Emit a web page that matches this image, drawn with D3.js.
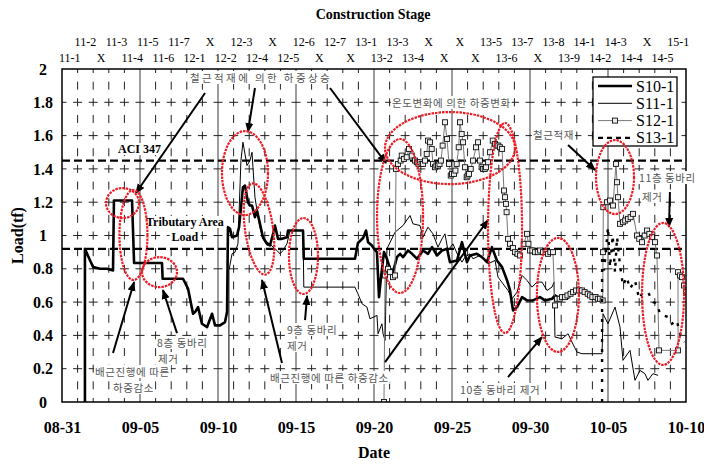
<!DOCTYPE html>
<html>
<head>
<meta charset="utf-8">
<script src="https://cdn.jsdelivr.net/npm/d3@7"></script>
<style>
	body { margin: 0; background: #fff; }
	svg { display: block; }
</style>
</head>
<body>
<svg id="chart" width="704" height="464"></svg>
<script>
// days counted from 08-31, load in tf
const xTickDays = [0, 5, 10, 15, 20, 25, 30, 35, 40]
const xTickLabels = ['08-31', '09-05', '09-10', '09-15', '09-20', '09-25', '09-30', '10-05', '10-10']
const yTicks = [0, 0.2, 0.4, 0.6, 0.8, 1, 1.2, 1.4, 1.6, 1.8, 2]
const yTickLabels = ['0', '0.2', '0.4', '0.6', '0.8', '1', '1.2', '1.4', '1.6', '1.8', '2']

// one label per day, alternating lower / upper row
const stageLabels = ['11-1', '11-2', 'X', '11-3', '11-4', '11-5', '11-6', '11-7', '12-1', 'X',
	'12-2', '12-3', '12-4', 'X', '12-5', '12-6', 'X', '12-7', 'X', '13-1',
	'13-2', '13-3', '13-4', 'X', 'X', 'X', 'X', '13-5', '13-6', '13-7',
	'X', '13-8', '13-9', '14-1', '14-2', '14-3', '14-4', 'X', '14-5', '15-1']

const seriesNames = ['S10-1', 'S11-1', 'S12-1', 'S13-1']

const s10 = [[1.47, 0], [1.47, 0.92], [1.8, 0.85], [2.0, 0.81], [2.44, 0.8], [2.88, 0.8], [3.27, 0.79], [3.33, 1.21],
	[4.49, 1.21], [4.62, 0.835], [6.41, 0.835], [6.45, 0.74], [7.76, 0.74], [8.08, 0.68], [8.4, 0.53], [8.53, 0.54],
	[8.72, 0.57], [8.97, 0.47], [9.3, 0.45], [9.62, 0.53], [9.81, 0.46], [10.13, 0.46], [10.45, 0.48], [10.58, 0.54],
	[10.64, 1.05], [10.77, 1.04], [10.9, 0.99], [11.22, 1.0], [11.35, 1.05], [11.6, 1.29], [11.73, 1.3], [11.92, 1.2],
	[12.05, 1.18], [12.18, 1.18], [12.37, 1.11], [12.5, 1.15], [12.69, 1.07], [12.88, 0.99], [13.08, 0.96], [13.33, 0.94],
	[13.53, 1.01], [13.65, 1.06], [13.85, 0.98], [14.1, 0.98], [14.42, 0.99], [14.49, 1.03], [15.45, 1.03], [15.5, 0.86],
	[18.78, 0.86], [18.97, 0.955], [19.3, 0.985], [19.49, 1.03], [19.62, 0.96], [19.87, 0.94], [20.0, 0.92], [20.19, 0.9],
	[20.32, 0.63], [20.45, 0.75], [20.64, 0.9], [20.83, 0.86], [21.03, 0.8], [21.22, 0.78], [21.47, 0.87], [21.67, 0.89],
	[21.86, 0.87], [22.18, 0.91], [22.44, 0.89], [22.76, 0.86], [23.14, 0.91], [23.46, 0.89], [23.72, 0.93], [24.04, 0.88],
	[24.36, 0.91], [24.68, 0.92], [24.87, 0.84], [25.32, 0.85], [25.64, 0.96], [25.96, 0.84], [26.15, 0.88], [26.6, 0.89],
	[26.92, 0.87], [27.24, 0.84], [27.56, 0.93], [27.88, 0.85], [28.21, 0.81], [28.53, 0.73], [28.72, 0.67], [28.91, 0.55],
	[29.17, 0.57], [29.49, 0.63], [29.81, 0.61], [30.19, 0.61], [30.64, 0.63], [30.96, 0.61], [31.41, 0.62], [31.6, 0.64],
	[31.92, 0.62], [32.37, 0.62], [32.69, 0.66], [33.21, 0.67], [33.65, 0.66], [34.04, 0.63], [34.62, 0.62]]

const s11 = [[10.7, 0], [10.7, 0.79], [10.9, 0.89], [11.09, 0.9], [11.28, 0.95], [11.47, 1.45], [11.6, 1.56], [11.73, 1.49],
	[11.86, 1.42], [12.05, 1.45], [12.18, 1.5], [12.24, 1.41], [12.37, 1.23], [12.5, 1.15], [12.69, 1.05], [12.88, 0.98],
	[13.14, 0.94], [13.33, 0.95], [13.53, 0.93], [13.78, 0.91], [13.97, 0.89], [14.17, 0.91], [14.42, 0.95], [14.62, 1.03],
	[15.45, 1.03], [15.5, 0.69], [18.78, 0.69], [18.97, 0.65], [19.23, 0.59], [19.55, 0.57], [19.74, 0.5], [20.19, 0.52],
	[20.26, 0.41], [20.51, 0.47], [20.58, 0.41], [20.71, 0.37], [20.83, 0.92], [21.35, 1.02], [21.86, 1.06], [22.31, 1.12],
	[22.5, 1.07], [22.95, 1.06], [23.14, 0.99], [23.46, 1.05], [23.78, 1.01], [24.1, 0.93], [24.36, 0.98], [24.55, 1.01],
	[24.74, 0.91], [25.06, 0.95], [25.38, 0.88], [25.64, 0.84], [25.83, 0.87], [26.15, 0.89], [26.35, 0.86], [26.79, 0.88],
	[27.12, 0.85], [27.31, 0.83], [27.76, 0.85], [27.95, 0.75], [28.27, 0.71], [28.59, 0.67], [28.85, 0.62], [29.17, 0.66],
	[29.49, 0.76], [29.81, 0.73], [30.13, 0.69], [30.45, 0.72], [30.77, 0.72], [31.09, 0.67], [31.41, 0.69], [31.54, 0.72],
	[31.6, 0.39], [32.05, 0.38], [32.44, 0.41], [32.69, 0.36], [33.01, 0.3], [33.33, 0.29], [33.85, 0.29], [34.62, 0.29],
	[34.68, 0.53], [35.0, 0.47], [35.45, 0.57], [35.77, 0.45], [35.96, 0.25], [36.41, 0.31], [36.73, 0.13], [37.05, 0.19],
	[37.37, 0.17], [37.56, 0.13], [37.88, 0.17], [38.21, 0.16]]

const s12 = [[20.64, 0], [20.71, 0.76], [20.9, 0.8], [21.03, 0.78], [21.22, 0.75], [21.35, 0.76], [21.41, 1.4], [21.54, 1.43],
	[21.71, 1.45], [21.78, 1.48], [21.92, 1.46], [22.1, 1.47], [22.24, 1.52], [22.42, 1.48], [22.63, 1.45], [22.75, 1.44],
	[22.85, 1.43], [22.95, 1.44], [23.05, 1.43], [23.14, 1.43], [23.27, 1.45], [23.38, 1.49], [23.46, 1.57], [23.59, 1.56],
	[23.7, 1.52], [23.78, 1.43], [23.91, 1.41], [24.0, 1.42], [24.1, 1.42], [24.2, 1.43], [24.29, 1.45], [24.4, 1.54],
	[24.55, 1.68], [24.68, 1.58], [24.81, 1.43], [24.92, 1.36], [25.0, 1.37], [25.13, 1.37], [25.22, 1.39], [25.3, 1.43],
	[25.43, 1.53], [25.51, 1.68], [25.62, 1.61], [25.71, 1.56], [25.83, 1.41], [25.94, 1.35], [26.0, 1.36], [26.09, 1.37],
	[26.2, 1.4], [26.35, 1.45], [26.54, 1.53], [26.67, 1.56], [26.79, 1.45], [26.9, 1.41], [26.99, 1.4], [27.1, 1.4],
	[27.18, 1.41], [27.31, 1.44], [27.44, 1.5], [27.61, 1.57], [27.76, 1.55], [27.87, 1.54], [27.97, 1.54], [28.08, 1.53],
	[28.21, 1.52], [28.33, 1.27], [28.4, 1.23], [28.46, 1.19], [28.5, 1.14], [28.59, 0.98], [28.72, 0.95], [28.91, 0.925],
	[29.04, 0.9], [29.2, 0.89], [29.36, 0.88], [29.6, 0.95], [29.81, 1.01], [29.9, 0.95], [30.0, 0.91], [30.15, 0.91],
	[30.32, 0.9], [30.5, 0.9], [30.65, 0.91], [30.83, 0.9], [31.0, 0.9], [31.15, 0.89], [31.3, 0.9], [31.47, 0.9],
	[31.6, 0.58], [31.73, 0.62], [31.9, 0.62], [32.05, 0.63], [32.24, 0.63], [32.4, 0.64], [32.6, 0.65], [32.76, 0.66],
	[32.95, 0.67], [33.15, 0.67], [33.33, 0.67], [33.5, 0.66], [33.7, 0.65], [33.85, 0.64], [34.0, 0.63], [34.2, 0.63],
	[34.35, 0.62], [34.49, 0.62], [34.66, 0.61], [34.68, 0.9], [34.7, 1.17], [34.94, 1.2], [35.13, 1.21], [35.32, 1.18],
	[35.51, 1.43], [35.58, 1.32], [35.64, 1.23], [35.77, 1.07], [35.96, 1.08], [36.1, 1.09], [36.28, 1.1], [36.45, 1.11],
	[36.6, 1.13], [36.86, 1.0], [37.0, 0.98], [37.18, 0.96], [37.35, 1.0], [37.5, 1.03], [37.65, 1.01], [37.82, 0.99],
	[38.01, 0.96], [38.14, 0.88], [38.27, 0.31], [39.49, 0.31], [39.49, 0.78], [39.62, 0.76], [39.74, 0.75], [39.87, 0.7],
	[40.0, 0.66]]

const s13 = [[34.62, 0], [34.62, 0.88], [34.75, 0.79], [35.0, 1.05], [35.13, 0.81], [35.3, 1.0], [35.45, 0.78], [35.58, 0.99],
	[35.77, 0.82], [35.96, 0.7], [36.2, 0.75], [36.41, 0.68], [36.73, 0.73], [37.0, 0.62], [37.18, 0.65], [37.56, 0.66],
	[37.9, 0.6], [38.14, 0.59], [38.33, 0.53], [38.85, 0.51], [39.1, 0.47], [39.42, 0.49], [39.55, 0.43], [39.68, 0.39],
	[39.9, 0.36]]

const refLevels = [1.45, 0.92]

// annotations: [day, load] anchors
const ellipses = [[3.88, 1.195, 16.5, 15, 0], [4.58, 1.003, 14, 45, 0], [6.25, 0.78, 17.5, 15, 0],
	[11.73, 1.375, 23, 42, 0], [12.63, 1.039, 14, 46, -8], [15.48, 0.877, 14.5, 38, 0],
	[24.87, 1.525, 65, 36, 0], [21.67, 1.117, 23, 77, 0], [28.4, 1.045, 17, 105, 0],
	[31.79, 0.643, 21, 57, 0], [35.45, 1.351, 19, 37, 0], [38.53, 0.649, 21, 71, 0]]

const arrows = [[9.17, 1.856, 4.74, 1.255], [12.37, 1.886, 11.92, 1.622], [17.18, 1.886, 20.77, 1.435],
	[3.27, 0.294, 4.62, 0.721], [7.37, 0.414, 6.47, 0.673], [14.1, 0.234, 12.82, 0.733],
	[20.71, 0.24, 27.31, 1.093], [15.58, 0.492, 15.71, 0.637], [28.59, 0.15, 30.77, 0.39],
	[32.44, 1.544, 34.17, 1.393], [38.97, 1.261, 38.91, 1.051]]

// [text, day, load, letter spacing]
const notes = [['철근적재에 의한 하중상승', 8.2, 1.922, 2.4], ['온도변화에 의한 하중변화', 21.15, 1.772, 0.6],
	['철근적재', 30.19, 1.58, 0.6], ['11층 동바리', 36.99, 1.321, 0.6], ['제거', 37.18, 1.207, 0.6],
	['8층  동바리', 6.09, 0.33, 0.6], ['제거', 6.15, 0.234, 0.6],
	['배근진행에 따른', 2.12, 0.156, 0.6], ['하중감소', 3.27, 0.06, 0.6],
	['9층  동바리', 14.42, 0.408, 0.6], ['제거', 14.42, 0.312, 0.6],
	['배근진행에 따른 하중감소', 13.33, 0.12, 0.6], ['10층 동바리 제거', 25.51, 0.048, 0.6]]

const serif = '"Liberation Serif", "Times New Roman", serif'
const korean = '"Noto Sans CJK KR", sans-serif'

const svg = d3.select('#chart')
const x = d3.scaleLinear().domain([0, 40]).range([62, 686])
const y = d3.scaleLinear().domain([0, 2]).range([402, 69])

svg.append('defs')
	.append('marker')
	.attr('id', 'head')
	.attr('viewBox', '0 0 10 10')
	.attr('refX', 9)
	.attr('refY', 5)
	.attr('markerWidth', 10)
	.attr('markerHeight', 10)
	.attr('markerUnits', 'userSpaceOnUse')
	.attr('orient', 'auto')
	.append('path')
	.attr('d', 'M0,1 L10,5 L0,9 Z')
	.attr('fill', '#000')

svg.select('defs')
	.append('clipPath')
	.attr('id', 'plot')
	.append('rect')
	.attr('x', x(0))
	.attr('y', y(2))
	.attr('width', x(40) - x(0))
	.attr('height', y(0) - y(2))

// white box behind a text
function backing(layer, t, pad) {
	const b = t.node().getBBox()
	layer.insert('rect', () => t.node())
		.attr('x', b.x - pad)
		.attr('y', b.y + 1)
		.attr('width', b.width + pad * 2)
		.attr('height', b.height - 2)
		.attr('fill', '#fff')
}

// grid
const grid = svg.append('g')
grid.selectAll('.vdash')
	.data(d3.range(1, 40).filter(d => d % 5))
	.join('line')
	.attr('x1', d => x(d))
	.attr('x2', d => x(d))
	.attr('y1', y(2))
	.attr('y2', y(0))
	.attr('stroke', '#222')
	.attr('stroke-dasharray', '8,8.65')
	.attr('stroke-dashoffset', 4)

grid.selectAll('.vsolid')
	.data([5, 10, 15, 20, 25, 30, 35])
	.join('line')
	.attr('x1', d => x(d))
	.attr('x2', d => x(d))
	.attr('y1', y(2))
	.attr('y2', y(0))
	.attr('stroke', '#666')
	.attr('stroke-width', 1.3)

grid.selectAll('.hdash')
	.data(yTicks.slice(1, -1))
	.join('line')
	.attr('x1', x(0))
	.attr('x2', x(40))
	.attr('y1', d => y(d))
	.attr('y2', d => y(d))
	.attr('stroke', '#222')
	.attr('stroke-dasharray', '9,6.6')
	.attr('stroke-dashoffset', 4.5)

// reference loads
const refText = svg.append('g')
	.attr('font-family', serif)
	.attr('font-weight', 'bold')
	.attr('font-size', 12)
const aci = refText.append('text').attr('x', x(3.59)).attr('y', y(1.495)).text('ACI 347')
backing(refText, aci, 2)
const trib = refText.append('text').attr('x', x(7.88)).attr('y', y(1.057)).attr('text-anchor', 'middle').text('Tributary Area')
backing(refText, trib, 2)
const tribLoad = refText.append('text').attr('x', x(7.88)).attr('y', y(0.967)).attr('text-anchor', 'middle').text('Load')
backing(refText, tribLoad, 2)

svg.append('g')
	.selectAll('line')
	.data(refLevels)
	.join('line')
	.attr('x1', x(0))
	.attr('x2', x(40))
	.attr('y1', d => y(d))
	.attr('y2', d => y(d))
	.attr('stroke', '#000')
	.attr('stroke-width', 2.2)
	.attr('stroke-dasharray', '8,4')

// series
const line = d3.line().x(d => x(d[0])).y(d => y(d[1]))
const plot = svg.append('g').attr('clip-path', 'url(#plot)')

plot.append('path').datum(s11)
	.attr('d', line).attr('fill', 'none').attr('stroke', '#000').attr('stroke-width', 1)
plot.append('path').datum(s10)
	.attr('d', line).attr('fill', 'none').attr('stroke', '#000').attr('stroke-width', 2.6)
	.attr('stroke-linejoin', 'round')
plot.append('path').datum(s12)
	.attr('d', line).attr('fill', 'none').attr('stroke', '#777').attr('stroke-width', 1)
plot.selectAll('.sq')
	.data(s12)
	.join('rect')
	.attr('x', d => x(d[0]) - 2.5)
	.attr('y', d => y(d[1]) - 2.5)
	.attr('width', 5)
	.attr('height', 5)
	.attr('fill', '#eee')
	.attr('stroke', '#111')
	.attr('stroke-width', 0.9)
plot.append('path').datum(s13)
	.attr('d', line).attr('fill', 'none').attr('stroke', '#000').attr('stroke-width', 2.4)
	.attr('stroke-dasharray', '3,7')

// frame
svg.append('rect')
	.attr('x', x(0))
	.attr('y', y(2))
	.attr('width', x(40) - x(0))
	.attr('height', y(0) - y(2))
	.attr('fill', 'none')
	.attr('stroke', '#000')
	.attr('stroke-width', 1.5)

// axes
const yAxis = svg.append('g')
	.attr('transform', `translate(${x(0)},0)`)
	.call(d3.axisLeft(y).tickValues(yTicks).tickFormat((d, i) => yTickLabels[i]).tickSize(0))
yAxis.select('.domain').remove()
yAxis.selectAll('text')
	.attr('x', -19)
	.attr('text-anchor', 'middle')
	.attr('font-family', serif)
	.attr('font-weight', 'bold')
	.attr('font-size', 16)
	.attr('fill', '#000')

const xAxis = svg.append('g')
	.attr('transform', `translate(0,${y(0)})`)
	.call(d3.axisBottom(x).tickValues(xTickDays).tickFormat((d, i) => xTickLabels[i]).tickSize(0))
xAxis.select('.domain').remove()
xAxis.selectAll('text')
	.attr('y', 20)
	.attr('font-family', serif)
	.attr('font-weight', 'bold')
	.attr('font-size', 16)
	.attr('fill', '#000')

svg.append('text')
	.attr('x', 374)
	.attr('y', 458)
	.attr('text-anchor', 'middle')
	.attr('font-family', serif)
	.attr('font-weight', 'bold')
	.attr('font-size', 16)
	.text('Date')

svg.append('text')
	.attr('transform', `translate(23,${(y(0) + y(2)) / 2}) rotate(-90)`)
	.attr('text-anchor', 'middle')
	.attr('font-family', serif)
	.attr('font-weight', 'bold')
	.attr('font-size', 16)
	.text('Load(tf)')

// construction stages on top
svg.append('text')
	.attr('x', 373)
	.attr('y', 19)
	.attr('text-anchor', 'middle')
	.attr('font-family', serif)
	.attr('font-weight', 'bold')
	.attr('font-size', 14)
	.text('Construction Stage')

svg.append('g')
	.selectAll('text')
	.data(stageLabels)
	.join('text')
	.attr('x', (d, i) => x(i + 0.5))
	.attr('y', (d, i) => (i % 2 ? 46 : 62))
	.attr('text-anchor', 'middle')
	.attr('font-family', serif)
	.attr('font-size', 12)
	.text(d => d)

// legend
const legend = svg.append('g').attr('transform', 'translate(593,77)')
legend.append('rect')
	.attr('width', 84)
	.attr('height', 69)
	.attr('fill', '#fff')
	.attr('stroke', '#000')
	.attr('stroke-width', 1.3)
const legendRow = legend.selectAll('.row')
	.data(seriesNames)
	.join('g')
	.attr('transform', (d, i) => `translate(0,${9 + i * 17.3})`)
legendRow.append('line')
	.attr('x1', 5)
	.attr('x2', 39)
	.attr('stroke', (d, i) => (i === 2 ? '#777' : '#000'))
	.attr('stroke-width', (d, i) => [2.6, 1, 1, 2.4][i])
	.attr('stroke-dasharray', (d, i) => (i === 3 ? '5,4' : null))
legendRow.filter((d, i) => i === 2)
	.append('rect')
	.attr('x', 19.5)
	.attr('y', -2.5)
	.attr('width', 5)
	.attr('height', 5)
	.attr('fill', '#eee')
	.attr('stroke', '#111')
	.attr('stroke-width', 0.9)
legendRow.append('text')
	.attr('x', 43)
	.attr('y', 5.5)
	.attr('font-family', serif)
	.attr('font-size', 16)
	.text(d => d)

// annotations
const notesLayer = svg.append('g')
notes.forEach(([txt, d, v, ls]) => {
	const t = notesLayer.append('text')
		.attr('x', x(d))
		.attr('y', y(v))
		.attr('font-family', korean)
		.attr('font-size', 10.5)
		.attr('letter-spacing', ls)
		.attr('fill', '#555')
		.text(txt)
	backing(notesLayer, t, 1)
})

svg.append('g')
	.selectAll('line')
	.data(arrows)
	.join('line')
	.attr('x1', d => x(d[0]))
	.attr('y1', d => y(d[1]))
	.attr('x2', d => x(d[2]))
	.attr('y2', d => y(d[3]))
	.attr('stroke', '#000')
	.attr('stroke-width', 2)
	.attr('marker-end', 'url(#head)')

svg.append('g')
	.selectAll('ellipse')
	.data(ellipses)
	.join('ellipse')
	.attr('transform', d => `translate(${x(d[0])},${y(d[1])}) rotate(${d[4]})`)
	.attr('rx', d => d[2])
	.attr('ry', d => d[3])
	.attr('fill', 'none')
	.attr('stroke', '#ee1c25')
	.attr('stroke-width', 2.2)
	.attr('stroke-dasharray', '2.5,1')
</script>
</body>
</html>
